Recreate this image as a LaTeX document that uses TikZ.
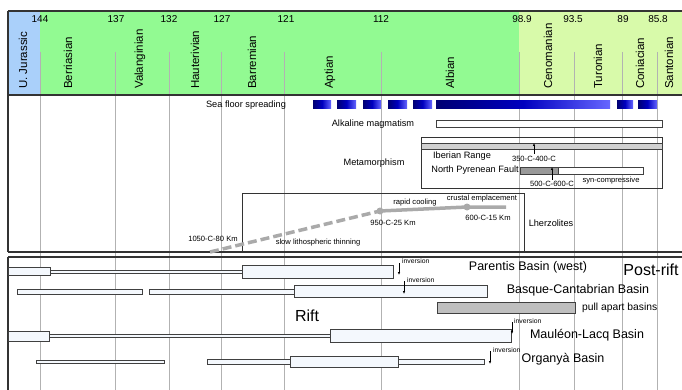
\documentclass[tikz,border=0pt]{standalone}
\usepackage{fontspec}
\setmainfont{Liberation Sans}
\usetikzlibrary{arrows.meta,positioning}

\definecolor{jurcol}{RGB}{170,208,250}
\definecolor{lkcol}{RGB}{146,250,146}
\definecolor{ukcol}{RGB}{216,250,170}
\definecolor{barcol}{RGB}{244,248,253}
\definecolor{pathcol}{RGB}{170,170,170}

\tikzset{
  frameline/.style={draw=black!80,line width=1.3pt},
  ageline/.style={draw=black!30,line width=0.6pt},
  stagelbl/.style={rotate=90,anchor=west,inner sep=0pt,font=\fontsize{11.5}{12}\selectfont},
  agelbl/.style={inner sep=0pt,font=\fontsize{10}{11}\selectfont},
  midlbl/.style={inner sep=0pt,font=\fontsize{9.2}{10}\selectfont},
  smalllbl/.style={inner sep=0pt,font=\fontsize{7.6}{8}\selectfont},
  invlbl/.style={inner sep=0pt,anchor=west,font=\fontsize{6.8}{7}\selectfont},
  basinlbl/.style={inner sep=0pt,font=\fontsize{12.5}{13}\selectfont},
  biglbl/.style={inner sep=0pt,font=\fontsize{16}{17}\selectfont},
  bar/.style={draw=black!75,fill=barcol,line width=0.7pt},
  greybar/.style={draw=black!75,fill=black!25,line width=0.7pt},
  sfsbar/.style={left color=blue!45!black,right color=blue!60,middle color=blue!75!black},
  evdot/.style={circle,fill=pathcol,inner sep=0pt,minimum size=7pt},
  invarrow/.style={-{Latex[length=3pt,width=2.5pt]},line width=0.6pt},
}

\begin{document}
\begin{tikzpicture}[x=1pt,y=-1pt]
  \useasboundingbox (0,0) rectangle (682,390);

  % time scale header
  \fill[jurcol] (8,11) rectangle (40,95);
  \fill[lkcol] (40,11) rectangle (519,95);
  \fill[ukcol] (519,11) rectangle (682,95);

  \foreach \xa in {40,115,169,221,284,381,519,574,622,657}
    \draw[ageline] (\xa,52) -- (\xa,390);

  \foreach \xa/\age in {40/144,116/137,169/132,222/127,286/121,381/112,522/98.9,573/93.5,623/89,658/85.8}
    \node[agelbl] (age\age) at (\xa,19) {\age};

  \foreach \xa/\stage in {23/U. Jurassic,68/Berriasian,140/Valanginian,195/Hauterivian,252/Barremian,330/Aptian,450/Albian,548/Cenomanian,598/Turonian,640/Coniacian,669/Santonian}
    \node[stagelbl] at (\xa,89) {\stage};

  \draw[frameline] (8,11) -- (682,11);
  \draw[frameline] (8,95) -- (682,95);
  \draw[frameline] (8,252) -- (682,252);
  \draw[frameline] (8,257) -- (682,257);
  \draw[frameline] (8,11) -- (8,252);
  \draw[frameline] (8,257) -- (8,390);

  % sea floor spreading and magmatism
  \node[midlbl] (sfs) at (246,105) {Sea floor spreading};
  \foreach \xa/\xb in {313/331,337/356,363/381,388/407,413/432,436/610,617/633,638/657}
    \shade[sfsbar] (\xa,101) rectangle (\xb,109);
  \node[midlbl] (alk) at (373,124) {Alkaline magmatism};
  \draw[bar,fill=white] (436,120) rectangle (662,127);

  % metamorphism
  \node[midlbl] (meta) at (374,163) {Metamorphism};
  \draw[line width=0.8pt,draw=black!80] (421,137) rectangle (662,188);
  \draw[greybar,fill=black!18] (421,143) rectangle (662,149);
  \node[midlbl] (ibr) at (462,156) {Iberian Range};
  \coordinate (ibA) at (534,154);
  \coordinate (ibB) at (534,143);
  \draw[invarrow] (ibA) -- (ibB);
  \node[smalllbl] (ibT) at (534,159) {350-C-400-C};
  \node[midlbl,anchor=east] (npf) at (519,170) {North Pyrenean Fault};
  \draw[bar,fill=white] (520,167) rectangle (643,174);
  \draw[greybar,fill=black!40] (520,167) rectangle (558,174);
  \coordinate (npA) at (552,180);
  \coordinate (npB) at (552,167);
  \draw[invarrow] (npA) -- (npB);
  \node[smalllbl] (npT) at (552,184) {500-C-600-C};
  \node[smalllbl] (syn) at (611,181) {syn-compressive};

  % lherzolites
  \draw[line width=0.8pt,draw=black!80] (242,252) -- (242,193) -- (524,193) -- (524,252);
  \node[midlbl] (lhz) at (551,223) {Lherzolites};
  \coordinate (p0) at (210,252);
  \node[evdot] (p1) at (380,211) {};
  \node[evdot] (p2) at (467,207) {};
  \coordinate (p3) at (506,207);
  \draw[pathcol,line width=3.5pt,dash pattern=on 9pt off 4pt] (p0) -- (p1.center);
  \draw[pathcol,line width=3.5pt] (p1.center) -- (p2.center) -- (p3);
  \node[smalllbl] at (213,239) {1050-C-80 Km};
  \node[smalllbl] at (318,243) {slow lithospheric thinning};
  \node[smalllbl] at (393,223) {950-C-25 Km};
  \node[smalllbl] at (415,203) {rapid cooling};
  \node[smalllbl] at (482,199) {crustal emplacement};
  \node[smalllbl] at (488,218) {600-C-15 Km};

  % basins
  \draw[bar] (8,267) rectangle (50,275);
  \draw[bar] (50,270.5) rectangle (242,273.5);
  \draw[bar] (242,265) rectangle (393,278);
  \coordinate (inv1a) at (399,263);
  \coordinate (inv1b) at (399,275);
  \draw[invarrow] (inv1a) -- (inv1b);
  \node[invlbl] at (402,261) {inversion};
  \node[basinlbl] (par) at (528,267) {Parentis Basin (west)};
  \node[biglbl] (post) at (651,270) {Post-rift};

  \draw[bar] (17,289) rectangle (142,294);
  \draw[bar] (149,289) rectangle (294,294);
  \draw[bar] (294,285) rectangle (487,297);
  \coordinate (inv2a) at (404,281);
  \coordinate (inv2b) at (404,294);
  \draw[invarrow] (inv2a) -- (inv2b);
  \node[invlbl] at (407,280) {inversion};
  \node[basinlbl] (bc) at (578,290) {Basque-Cantabrian Basin};

  \node[biglbl] (rift) at (307,316) {Rift};
  \draw[greybar] (437,302) rectangle (575,313);
  \node[inner sep=0pt,anchor=west,font=\fontsize{10.3}{11}\selectfont] (pab) at (582,308) {pull apart basins};

  \draw[bar] (8,331) rectangle (49,341);
  \draw[bar] (49,334) rectangle (330,337);
  \draw[bar] (330,329) rectangle (511,342);
  \coordinate (inv3a) at (512,322);
  \coordinate (inv3b) at (512,334);
  \draw[invarrow] (inv3a) -- (inv3b);
  \node[invlbl] at (514,321) {inversion};
  \node[basinlbl] (ml) at (587,335) {Mauléon-Lacq Basin};

  \draw[bar] (36,360) rectangle (164,363);
  \draw[bar] (207,359) rectangle (290,364);
  \draw[bar] (290,356) rectangle (398,367);
  \draw[bar] (398,359) rectangle (484,364);
  \coordinate (inv4a) at (490,351);
  \coordinate (inv4b) at (490,364);
  \draw[invarrow] (inv4a) -- (inv4b);
  \node[invlbl] at (493,350) {inversion};
  \node[basinlbl] (org) at (563,359) {Organyà Basin};
\end{tikzpicture}
\end{document}
